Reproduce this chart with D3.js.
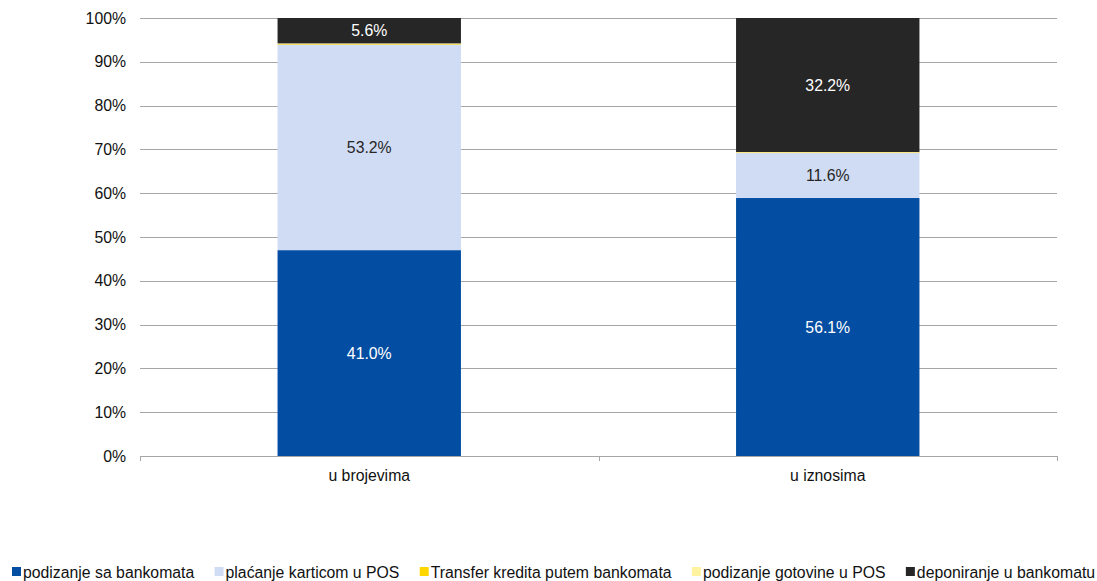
<!DOCTYPE html>
<html>
<head>
<meta charset="utf-8">
<script src="https://cdn.jsdelivr.net/npm/d3@7/dist/d3.min.js"></script>
<style>
body{margin:0;background:#fff;}
text{font-family:"Liberation Sans",Arial,sans-serif;}
</style>
</head>
<body>
<svg id="chart" width="1097" height="581"></svg>
<script>
const categories = ["u brojevima", "u iznosima"];
const seriesNames = ["podizanje sa bankomata", "plaćanje karticom u POS", "Transfer kredita putem bankomata", "podizanje gotovine u POS", "deponiranje u bankomatu"];
const seriesColors = ["#034ea2", "#d0dcf3", "#ffd700", "#fff3a0", "#262626"];
// segment shares (%) as drawn
const podizanjeBankomat = [47.0, 58.9];
const placanjePOS = [47.0, 10.4];
const transferKredita = [0.1, 0.05];
const podizanjeGotovinePOS = [0.1, 0.05];
const deponiranje = [5.8, 30.6];
// data labels as printed on the chart
const labelsPodizanje = ["41.0%", "56.1%"];
const labelsPlacanje = ["53.2%", "11.6%"];
const labelsDeponiranje = ["5.6%", "32.2%"];
const yTicks = [0, 10, 20, 30, 40, 50, 60, 70, 80, 90, 100];

const seriesValues = [podizanjeBankomat, placanjePOS, transferKredita, podizanjeGotovinePOS, deponiranje];
const seriesLabels = [labelsPodizanje, labelsPlacanje, null, null, labelsDeponiranje];
const labelColors = ["#ffffff", "#262626", null, null, "#ffffff"];

const FS = 15.8;
const svg = d3.select("#chart");
const pLeft = 140, pRight = 1057, pTop = 18, pBottom = 456;

const x = d3.scaleBand().domain(categories).range([pLeft, pRight]).paddingInner(0.6).paddingOuter(0.3);
const y = d3.scaleLinear().domain([0, 100]).range([pBottom, pTop]);

// gridlines
svg.append("g").selectAll("line").data(yTicks.slice(1)).join("line")
  .attr("x1", pLeft).attr("x2", pRight)
  .attr("y1", d => Math.round(y(d)) + 0.5).attr("y2", d => Math.round(y(d)) + 0.5)
  .attr("stroke", "#a6a6a6").attr("stroke-width", 1);

// y labels
svg.append("g").selectAll("text").data(yTicks).join("text")
  .attr("x", 126).attr("y", d => y(d)).attr("dy", "0.35em")
  .attr("text-anchor", "end").attr("font-size", FS).attr("fill", "#111")
  .text(d => d + "%");

// stack
const table = categories.map((c, i) => {
  const o = {cat: c};
  seriesNames.forEach((s, j) => o[s] = seriesValues[j][i]);
  return o;
});
const stacked = d3.stack().keys(seriesNames)(table);

const g = svg.append("g");
stacked.forEach((layer, j) => {
  g.append("g").selectAll("rect").data(layer).join("rect")
    .attr("x", d => x(d.data.cat))
    .attr("width", x.bandwidth())
    .attr("y", d => y(d[1]))
    .attr("height", d => Math.max(y(d[0]) - y(d[1]), 0.8))
    .attr("fill", seriesColors[j]);
});
stacked.forEach((layer, j) => {
  if (!seriesLabels[j]) return;
  g.append("g").selectAll("text").data(layer).join("text")
    .attr("x", d => x(d.data.cat) + x.bandwidth() / 2)
    .attr("y", d => (y(d[0]) + y(d[1])) / 2)
    .attr("dy", "0.35em").attr("text-anchor", "middle")
    .attr("font-size", FS).attr("fill", labelColors[j])
    .text((d, i) => seriesLabels[j][i]);
});

// x axis
const xa = svg.append("g");
xa.append("line").attr("x1", pLeft).attr("x2", pRight).attr("y1", pBottom + 0.5).attr("y2", pBottom + 0.5)
  .attr("stroke", "#a6a6a6");
const tickXs = [pLeft, (pLeft + pRight) / 2, pRight];
xa.selectAll("line.t").data(tickXs).join("line").attr("class", "t")
  .attr("x1", d => Math.round(d) + 0.5).attr("x2", d => Math.round(d) + 0.5)
  .attr("y1", pBottom).attr("y2", pBottom + 5).attr("stroke", "#a6a6a6");
xa.selectAll("text").data(categories).join("text")
  .attr("x", d => x(d) + x.bandwidth() / 2).attr("y", 475).attr("dy", "0.35em")
  .attr("text-anchor", "middle").attr("font-size", FS).attr("fill", "#111")
  .text(d => d);

// legend
const leg = svg.append("g");
let lx = 12;
seriesNames.forEach((s, j) => {
  leg.append("rect").attr("x", lx).attr("y", 567).attr("width", 9).attr("height", 9).attr("fill", seriesColors[j]);
  const t = leg.append("text").attr("x", lx + 11).attr("y", 572).attr("dy", "0.35em")
    .attr("font-size", FS).attr("fill", "#111").text(s);
  const w = t.node().getComputedTextLength();
  lx += 11 + w + 20.3;
});
</script>
</body>
</html>
